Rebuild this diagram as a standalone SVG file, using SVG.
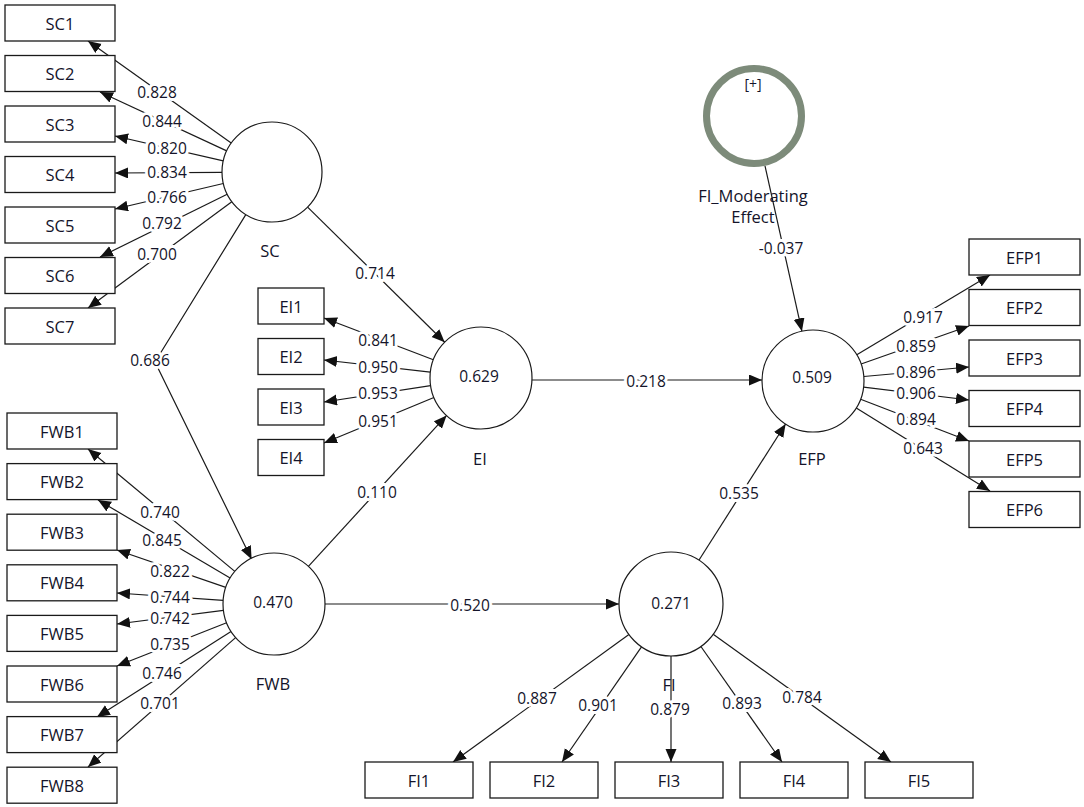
<svg xmlns="http://www.w3.org/2000/svg" width="1084" height="807" viewBox="0 0 1084 807">
<style>
.bx{fill:#fff;stroke:#1a1a1a;stroke-width:1.3}
.lv{fill:#fff;stroke:#1a1a1a;stroke-width:1.2}
.mod{fill:none;stroke:#7d8b7a;stroke-width:7}
.t{font-family:"Open Sans","Noto Sans",sans-serif;font-size:16.5px;fill:#14142a;text-anchor:middle;dominant-baseline:central}
.n{font-family:"Open Sans","Noto Sans",sans-serif;font-size:15.5px;fill:#14142a;text-anchor:middle;dominant-baseline:central}
.h{stroke:#fff;stroke-width:6;stroke-linejoin:round;paint-order:stroke}
.c line,.c path{stroke:#1a1a1a;stroke-width:1.2;fill:none;marker-end:url(#ah)}
</style>
<defs>
<marker id="ah" markerUnits="userSpaceOnUse" markerWidth="14" markerHeight="12" refX="13" refY="5.5" orient="auto">
<path d="M0,0 L13,5.5 L0,11 z" fill="#111"/>
</marker>
</defs>
<rect width="1084" height="807" fill="#fff"/>
<g id="connectors" class="c">
<line x1="231.2" y1="143.1" x2="88" y2="41"/>
<line x1="226.7" y1="150.9" x2="100" y2="92"/>
<line x1="223.3" y1="160.8" x2="115" y2="136"/>
<line x1="222" y1="172.3" x2="115" y2="173"/>
<line x1="223.3" y1="183.5" x2="115" y2="209"/>
<line x1="227.2" y1="194.2" x2="100" y2="257"/>
<line x1="231.8" y1="201.7" x2="88" y2="308"/>
<line x1="234.8" y1="571.4" x2="88" y2="449"/>
<line x1="230.1" y1="578" x2="98" y2="500"/>
<line x1="225.8" y1="587.4" x2="117" y2="550"/>
<line x1="223.1" y1="600.4" x2="117" y2="593"/>
<line x1="223.4" y1="610.4" x2="117" y2="624"/>
<line x1="226.6" y1="622.7" x2="117" y2="666"/>
<line x1="231" y1="631.4" x2="97" y2="717"/>
<line x1="235.6" y1="637.6" x2="88" y2="767"/>
<line x1="433.4" y1="359.8" x2="324" y2="318"/>
<line x1="430.3" y1="372.2" x2="324" y2="360"/>
<line x1="430.6" y1="385.7" x2="324" y2="402"/>
<line x1="433.9" y1="397.5" x2="324" y2="443"/>
<line x1="856.8" y1="354.8" x2="990" y2="275"/>
<line x1="861.1" y1="364" x2="969" y2="326"/>
<line x1="863.8" y1="376.5" x2="969" y2="367"/>
<line x1="863.6" y1="387.2" x2="969" y2="400"/>
<line x1="860.6" y1="399.3" x2="969" y2="441"/>
<line x1="856.3" y1="407.9" x2="990" y2="491"/>
<line x1="628.9" y1="634.5" x2="453" y2="762"/>
<line x1="641.5" y1="646.8" x2="562" y2="762"/>
<line x1="671" y1="656" x2="671" y2="762"/>
<line x1="700.9" y1="646.5" x2="782" y2="762"/>
<line x1="713.2" y1="634.3" x2="891" y2="762"/>
<line x1="307.6" y1="207.1" x2="444.7" y2="342.2"/>
<line x1="308.4" y1="566.4" x2="446.6" y2="415.4"/>
<line x1="325" y1="604" x2="619" y2="604"/>
<line x1="532" y1="380" x2="762" y2="380"/>
<line x1="698.9" y1="560.2" x2="785.6" y2="424"/>
<line x1="765" y1="165.8" x2="801.9" y2="331.2"/>
<path d="M245.8,214.6 L155,362 L251.6,559.2"/>
</g>
<g id="path-labels">
<text class="n h" x="157" y="92">0.828</text>
<text class="n h" x="162" y="121">0.844</text>
<text class="n h" x="167" y="148">0.820</text>
<text class="n h" x="167" y="172">0.834</text>
<text class="n h" x="167" y="197">0.766</text>
<text class="n h" x="162" y="223">0.792</text>
<text class="n h" x="157" y="254">0.700</text>
<text class="n h" x="160" y="512">0.740</text>
<text class="n h" x="162" y="540">0.845</text>
<text class="n h" x="170" y="571">0.822</text>
<text class="n h" x="170" y="597">0.744</text>
<text class="n h" x="170" y="618">0.742</text>
<text class="n h" x="170" y="644">0.735</text>
<text class="n h" x="162" y="673">0.746</text>
<text class="n h" x="160" y="703">0.701</text>
<text class="n h" x="378" y="340">0.841</text>
<text class="n h" x="378" y="367">0.950</text>
<text class="n h" x="378" y="393">0.953</text>
<text class="n h" x="378" y="421">0.951</text>
<text class="n h" x="923" y="317">0.917</text>
<text class="n h" x="916" y="346">0.859</text>
<text class="n h" x="916" y="372">0.896</text>
<text class="n h" x="916" y="393">0.906</text>
<text class="n h" x="916" y="419">0.894</text>
<text class="n h" x="923" y="448">0.643</text>
<text class="n h" x="537" y="698">0.887</text>
<text class="n h" x="598" y="705">0.901</text>
<text class="n h" x="670" y="709">0.879</text>
<text class="n h" x="742" y="703">0.893</text>
<text class="n h" x="802" y="697">0.784</text>
<text class="n h" x="375" y="273">0.714</text>
<text class="n h" x="150" y="360">0.686</text>
<text class="n h" x="377" y="492">0.110</text>
<text class="n h" x="470" y="605">0.520</text>
<text class="n h" x="646" y="381">0.218</text>
<text class="n h" x="739" y="493">0.535</text>
<text class="n h" x="781" y="248">-0.037</text>
</g>
<g id="SC1"><rect class="bx" x="5" y="5" width="110" height="36"/><text class="t" x="60" y="23">SC1</text></g>
<g id="SC2"><rect class="bx" x="5" y="55.5" width="110" height="36"/><text class="t" x="60" y="73.5">SC2</text></g>
<g id="SC3"><rect class="bx" x="5" y="106" width="110" height="36"/><text class="t" x="60" y="124">SC3</text></g>
<g id="SC4"><rect class="bx" x="5" y="156.5" width="110" height="36"/><text class="t" x="60" y="174.5">SC4</text></g>
<g id="SC5"><rect class="bx" x="5" y="207" width="110" height="36"/><text class="t" x="60" y="225">SC5</text></g>
<g id="SC6"><rect class="bx" x="5" y="257.5" width="110" height="36"/><text class="t" x="60" y="275.5">SC6</text></g>
<g id="SC7"><rect class="bx" x="5" y="308" width="110" height="36"/><text class="t" x="60" y="326">SC7</text></g>
<g id="FWB1"><rect class="bx" x="7" y="413" width="110" height="36"/><text class="t" x="62" y="431">FWB1</text></g>
<g id="FWB2"><rect class="bx" x="7" y="463.6" width="110" height="36"/><text class="t" x="62" y="481.6">FWB2</text></g>
<g id="FWB3"><rect class="bx" x="7" y="514.2" width="110" height="36"/><text class="t" x="62" y="532.2">FWB3</text></g>
<g id="FWB4"><rect class="bx" x="7" y="564.8" width="110" height="36"/><text class="t" x="62" y="582.8">FWB4</text></g>
<g id="FWB5"><rect class="bx" x="7" y="615.4" width="110" height="36"/><text class="t" x="62" y="633.4">FWB5</text></g>
<g id="FWB6"><rect class="bx" x="7" y="666" width="110" height="36"/><text class="t" x="62" y="684">FWB6</text></g>
<g id="FWB7"><rect class="bx" x="7" y="716.6" width="110" height="36"/><text class="t" x="62" y="734.6">FWB7</text></g>
<g id="FWB8"><rect class="bx" x="7" y="767.2" width="110" height="36"/><text class="t" x="62" y="785.2">FWB8</text></g>
<g id="EI1"><rect class="bx" x="258" y="288" width="66" height="36"/><text class="t" x="291" y="306">EI1</text></g>
<g id="EI2"><rect class="bx" x="258" y="338.5" width="66" height="36"/><text class="t" x="291" y="356.5">EI2</text></g>
<g id="EI3"><rect class="bx" x="258" y="389" width="66" height="36"/><text class="t" x="291" y="407">EI3</text></g>
<g id="EI4"><rect class="bx" x="258" y="439.5" width="66" height="36"/><text class="t" x="291" y="457.5">EI4</text></g>
<g id="EFP1"><rect class="bx" x="969" y="239" width="111" height="36"/><text class="t" x="1024.5" y="257">EFP1</text></g>
<g id="EFP2"><rect class="bx" x="969" y="289.5" width="111" height="36"/><text class="t" x="1024.5" y="307.5">EFP2</text></g>
<g id="EFP3"><rect class="bx" x="969" y="340" width="111" height="36"/><text class="t" x="1024.5" y="358">EFP3</text></g>
<g id="EFP4"><rect class="bx" x="969" y="390.5" width="111" height="36"/><text class="t" x="1024.5" y="408.5">EFP4</text></g>
<g id="EFP5"><rect class="bx" x="969" y="441" width="111" height="36"/><text class="t" x="1024.5" y="459">EFP5</text></g>
<g id="EFP6"><rect class="bx" x="969" y="491.5" width="111" height="36"/><text class="t" x="1024.5" y="509.5">EFP6</text></g>
<g id="FI1"><rect class="bx" x="365" y="762" width="108" height="36"/><text class="t" x="419" y="780">FI1</text></g>
<g id="FI2"><rect class="bx" x="490" y="762" width="108" height="36"/><text class="t" x="544" y="780">FI2</text></g>
<g id="FI3"><rect class="bx" x="615" y="762" width="108" height="36"/><text class="t" x="669" y="780">FI3</text></g>
<g id="FI4"><rect class="bx" x="740" y="762" width="108" height="36"/><text class="t" x="794" y="780">FI4</text></g>
<g id="FI5"><rect class="bx" x="865" y="762" width="108" height="36"/><text class="t" x="919" y="780">FI5</text></g>
<g id="SC"><circle class="lv" cx="272" cy="172" r="50"/><text class="t" x="270" y="250">SC</text></g>
<g id="FWB"><circle class="lv" cx="274" cy="604" r="51"/><text class="n" x="273" y="602">0.470</text><text class="t" x="273" y="683">FWB</text></g>
<g id="EI"><circle class="lv" cx="481" cy="378" r="51"/><text class="n" x="479" y="376">0.629</text><text class="t" x="480" y="458">EI</text></g>
<g id="EFP"><circle class="lv" cx="813" cy="381" r="51"/><text class="n" x="812" y="377">0.509</text><text class="t" x="812" y="458">EFP</text></g>
<g id="FI"><circle class="lv" cx="671" cy="604" r="52"/><text class="n" x="671" y="603">0.271</text><text class="t" x="669" y="684">FI</text></g>
<g id="FI_Moderating_Effect"><circle class="mod" cx="754" cy="116" r="47.5"/><text class="n" x="753" y="83" style="font-size:14px">[+]</text><text class="t" x="753" y="195">FI_Moderating</text><text class="t" x="753" y="216">Effect</text></g>
</svg>
